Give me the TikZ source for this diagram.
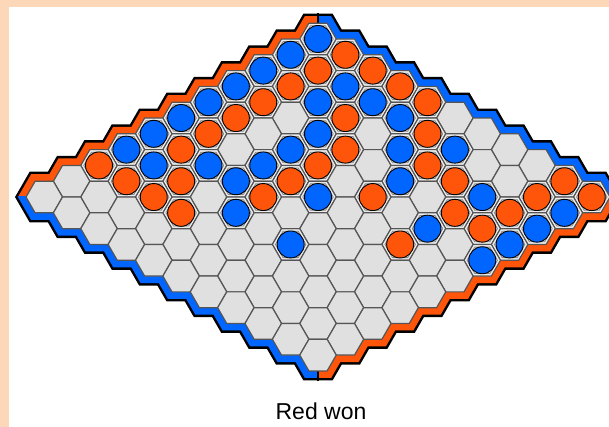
\documentclass[tikz,border=0pt]{standalone}
\usepackage{fontspec}
\setmainfont{Liberation Sans}
\definecolor{hexred}{RGB}{255,85,10}
\definecolor{hexblue}{RGB}{0,102,255}
\definecolor{peach}{RGB}{252,216,184}
\definecolor{cellgray}{RGB}{224,224,224}
\definecolor{gridline}{RGB}{85,85,85}
\tikzset{
  cellhex/.style={fill=cellgray, draw=gridline, line width=1.2pt},
  bevelhex/.style={draw=gridline!70, line width=0.8pt},
  lighthex/.style={draw=white!85!gray, line width=1.3pt},
  redstone/.style={fill=hexred, draw=black, line width=0.9pt},
  bluestone/.style={fill=hexblue, draw=black, line width=0.9pt},
}
\newcommand\hexat[3]{\draw[#1] (#2) ++(0:#3) -- ++(120:#3) -- ++(180:#3) -- ++(240:#3) -- ++(300:#3) -- ++(0:#3) -- cycle;}
\newcommand\boardloop[1]{%
  \draw[#1] ([shift={(180:18.25pt)}]c-10-0) -- ([shift={(120:18.25pt)}]c-10-0)
    \foreach \i in {9,...,0}{ -- ([shift={(180:18.25pt)}]c-\i-0) -- ([shift={(120:18.25pt)}]c-\i-0) }
    \foreach \j in {0,...,10}{ -- ([shift={(60:18.25pt)}]c-0-\j) -- ([shift={(0:18.25pt)}]c-0-\j) }
    \foreach \i in {0,...,10}{ -- ([shift={(300:18.25pt)}]c-\i-10) -- ([shift={(240:18.25pt)}]c-\i-10) }
    -- ([shift={(180:18.25pt)}]c-10-10)
    \foreach \j in {9,...,1}{ -- ([shift={(240:18.25pt)}]c-10-\j) -- ([shift={(180:18.25pt)}]c-10-\j) }
    -- ([shift={(240:18.25pt)}]c-10-0) -- cycle;}
\begin{document}
\begin{tikzpicture}[x=1pt,y=1pt,line join=miter]
\useasboundingbox (0,0) rectangle (609,427);
\fill[white] (0,0) rectangle (609,427);
\fill[peach] (0,0) rectangle (9,427);
\fill[peach] (0,420) rectangle (609,427);
% cell centres
\foreach \i in {0,...,10}{
  \foreach \j in {0,...,10}{
    \coordinate (c-\i-\j) at ({318+27.375*(\j-\i)},{388-15.805*(\i+\j)});
  }}
% border bands
\boardloop{black, line width=19pt}
\begin{scope}
  \clip (0,230) rectangle (318,427);
  \boardloop{hexred, line width=14pt}
\end{scope}
\begin{scope}
  \clip (318,230) rectangle (609,427);
  \boardloop{hexblue, line width=14pt}
\end{scope}
\begin{scope}
  \clip (0,0) rectangle (318,230);
  \boardloop{hexblue, line width=14pt}
\end{scope}
\begin{scope}
  \clip (318,0) rectangle (609,230);
  \boardloop{hexred, line width=14pt}
\end{scope}
\coordinate (topmid) at ([shift={(90:15.805pt)}]c-0-0);
\coordinate (botmid) at ([shift={(270:15.805pt)}]c-10-10);
\draw[black, line width=1.6pt] (topmid) -- ++(0,10);
\draw[black, line width=1.6pt] (botmid) -- ++(0,-10);
% cells
\foreach \i in {0,...,10}{
  \foreach \j in {0,...,10}{
    \hexat{cellhex}{c-\i-\j}{18.25pt}
  }}
% stones
\foreach \i/\j in {0/1,1/1,0/2,2/1,0/3,3/1,0/4,4/1,2/3,5/1,1/5,6/1,3/4,8/0,4/4,2/6,8/1,7/2,5/4,2/7,0/9,8/2,6/4,4/6,1/9,0/10,8/3,3/8,2/9,3/9,5/8}{
  \hexat{lighthex}{c-\i-\j}{16.3pt}
  \hexat{bevelhex}{c-\i-\j}{15.2pt}
  \draw[redstone] (c-\i-\j) circle (13.5pt);
}
\foreach \i/\j in {0/0,1/0,2/0,3/0,1/2,4/0,2/2,1/3,5/0,1/4,6/0,3/3,7/0,4/3,2/5,1/6,7/1,6/2,5/3,6/3,3/6,5/5,2/8,7/4,1/10,4/8,2/10,7/6,3/10,4/10}{
  \hexat{lighthex}{c-\i-\j}{16.3pt}
  \hexat{bevelhex}{c-\i-\j}{15.2pt}
  \draw[bluestone] (c-\i-\j) circle (13.5pt);
}
\node[font=\fontsize{23}{27}\selectfont, anchor=base] (label) at (321,7) {Red won};
\end{tikzpicture}
\end{document}
